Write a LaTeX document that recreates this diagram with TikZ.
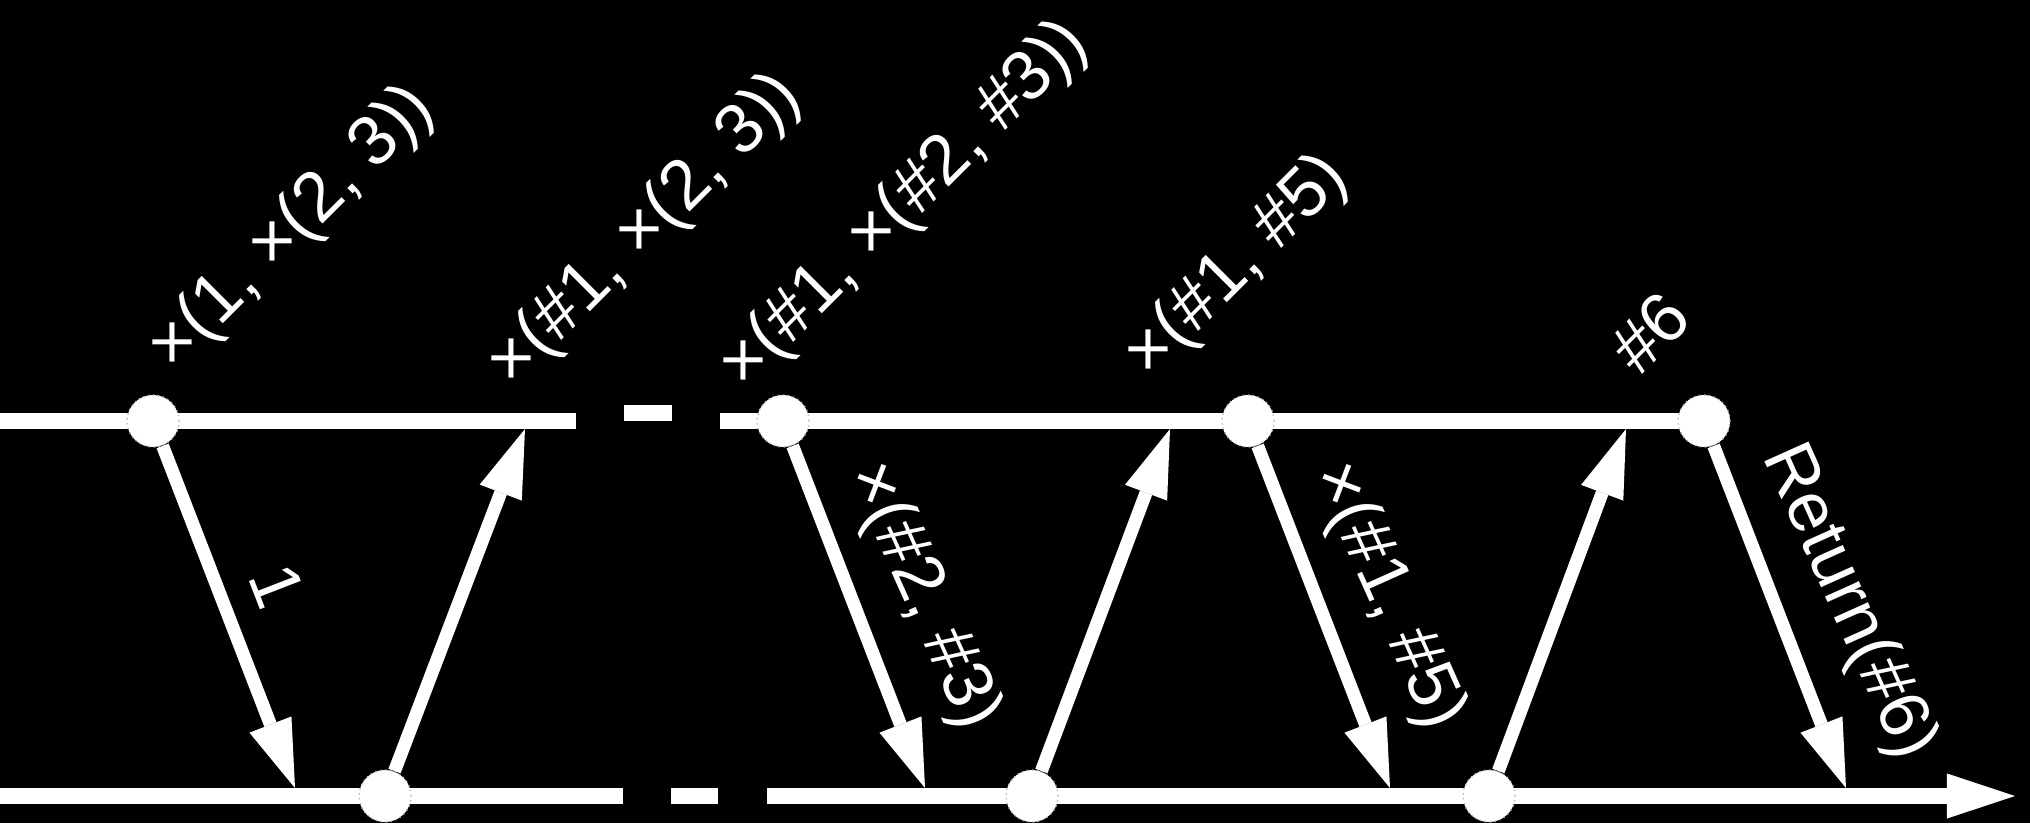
\documentclass[tikz,border=0pt]{standalone}
\usepackage{fontspec}
\setmainfont{Liberation Sans}
\usetikzlibrary{arrows.meta}

\begin{document}
\begin{tikzpicture}[x=0.01cm, y=0.01cm,
  track/.style={white, line width=0.156cm},
  msg/.style={white, line width=0.13cm,
              -{Triangle[length=0.68cm, width=0.45cm, line width=0pt]}},
  event/.style={circle, fill=white, draw=gray!55, densely dotted,
                line width=0.4pt, minimum size=0.52cm, inner sep=0pt},
  lbl/.style={white, font=\fontsize{20}{24}\selectfont, inner sep=0pt, outer sep=0pt},
  term/.style={lbl, rotate=45, anchor=base west}
]
\useasboundingbox (0,0) rectangle (2030,823);
\fill[black] (0,0) rectangle (2030,823);

% the two time lines, with their breaks
\coordinate (topA) at (0,402);     \coordinate (topB) at (576,402);
\coordinate (topC) at (720,402);   \coordinate (topD) at (1704,402);
\coordinate (botA) at (0,27);      \coordinate (botB) at (623,27);
\coordinate (botC) at (767,27);    \coordinate (botD) at (2015,27);
\draw[track] (topA) -- (topB);
\draw[track] (624,410) -- (672,410);
\draw[track] (topC) -- (topD);
\draw[track] (botA) -- (botB);
\draw[track] (671,27) -- (718,27);
\draw[track, -{Triangle[length=0.68cm, width=0.45cm, line width=0pt]}] (botC) -- (botD);

% events
\node[event] (t1) at (153,402)  {};
\node[event] (t2) at (783,402)  {};
\node[event] (t3) at (1248,402) {};
\node[event] (t4) at (1704,402) {};
\node[event] (b1) at (385,27)   {};
\node[event] (b2) at (1032,27)  {};
\node[event] (b3) at (1489,27)  {};

% where the messages arrive
\coordinate (d1) at (295,35);   \coordinate (u1) at (525,394);
\coordinate (d2) at (925,35);   \coordinate (u2) at (1170,394);
\coordinate (d3) at (1390,35);  \coordinate (u3) at (1626,394);
\coordinate (d4) at (1846,35);

\draw[msg] (t1) -- node[lbl, sloped, above=0.32cm, pos=0.47]{1} (d1);
\draw[msg] (b1) -- (u1);
\draw[msg] (t2) -- node[lbl, sloped, rotate=3, above=0.34cm, pos=0.52]{×(\#2, \#3)} (d2);
\draw[msg] (b2) -- (u2);
\draw[msg] (t3) -- node[lbl, sloped, rotate=3, above=0.34cm, pos=0.52]{×(\#1, \#5)} (d3);
\draw[msg] (b3) -- (u3);
\draw[msg] (t4) -- node[lbl, sloped, rotate=3, above=0.36cm, pos=0.54]{Return(\#6)} (d4);

% terms on the upper line
\node[term] (s1) at (174,450)  {×(1, ×(2, 3))};
\node[term] (s2) at (513,434)  {×(\#1, ×(2, 3))};
\node[term] (s3) at (745,432)  {×(\#1, ×(\#2, \#3))};
\node[term] (s4) at (1150,443) {×(\#1, \#5)};
\node[term] (s5) at (1639,446) {\#6};
\end{tikzpicture}
\end{document}
